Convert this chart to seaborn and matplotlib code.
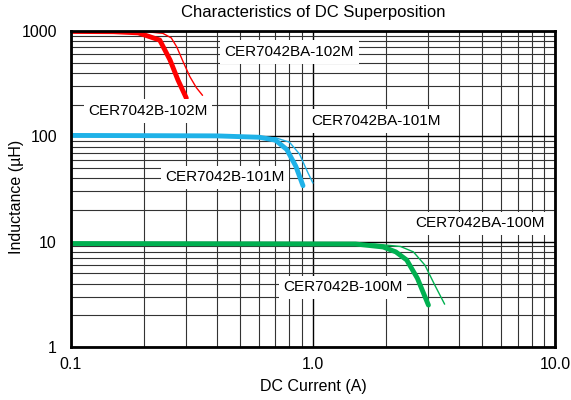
import numpy as np
import pandas as pd
import seaborn as sns
import matplotlib.pyplot as plt
from matplotlib.ticker import FixedLocator, FixedFormatter, LogLocator, NullFormatter

# Curvas (corrente em A, indutância em uH)
b102_x = [0.1, 0.15, 0.19, 0.233, 0.257, 0.277, 0.30]
b102_y = [990, 985, 960, 820, 530, 343, 231]
ba102_x = [0.1, 0.2, 0.24, 0.26, 0.274, 0.29, 0.31, 0.33, 0.35]
ba102_y = [1000, 990, 950, 860, 705, 520, 370, 290, 245]

b101_x = [0.1, 0.4, 0.6, 0.7, 0.78, 0.85, 0.91]
b101_y = [102, 101, 98, 92, 75, 52, 34]
ba101_x = [0.1, 0.5, 0.7, 0.8, 0.88, 0.95, 1.0]
ba101_y = [102, 101, 97, 88, 68, 46, 36]

b100_x = [0.1, 1.5, 1.95, 2.2, 2.44, 2.7, 3.0]
b100_y = [9.6, 9.5, 8.9, 8.0, 6.7, 4.5, 2.5]
ba100_x = [0.1, 1.8, 2.3, 2.6, 2.9, 3.2, 3.5]
ba100_y = [9.6, 9.5, 9.0, 8.0, 6.0, 3.8, 2.55]

curvas = [
    ('CER7042B-102M', b102_x, b102_y, '#ff0000', 3.5),
    ('CER7042BA-102M', ba102_x, ba102_y, '#ff0000', 1.0),
    ('CER7042B-101M', b101_x, b101_y, '#1fb2e8', 3.5),
    ('CER7042BA-101M', ba101_x, ba101_y, '#1fb2e8', 1.0),
    ('CER7042B-100M', b100_x, b100_y, '#00b050', 3.5),
    ('CER7042BA-100M', ba100_x, ba100_y, '#00b050', 1.0),
]

# Posição dos rótulos (em coordenadas de dados)
rotulos = {
    'CER7042BA-102M': (0.80, 632),
    'CER7042B-102M': (0.208, 174),
    'CER7042BA-101M': (1.82, 140),
    'CER7042B-101M': (0.433, 41),
    'CER7042BA-100M': (4.9, 15.0),
    'CER7042B-100M': (1.33, 3.7),
}

sns.set_style('white')
plt.rcParams['font.family'] = ['Liberation Sans', 'DejaVu Sans']
plt.rcParams['text.color'] = 'black'
plt.rcParams['axes.labelcolor'] = 'black'
plt.rcParams['xtick.color'] = 'black'
plt.rcParams['ytick.color'] = 'black'

fig = plt.figure(figsize=(5.71, 4.0), dpi=100)
ax = fig.add_axes([0.124, 0.1325, 0.848, 0.79])

ax.set_xscale('log')
ax.set_yscale('log')
ax.set_xlim(0.1, 10)
ax.set_ylim(1, 1000)

ax.xaxis.set_major_locator(FixedLocator([0.1, 1, 10]))
ax.xaxis.set_major_formatter(FixedFormatter(['0.1', '1.0', '10.0']))
ax.yaxis.set_major_locator(FixedLocator([1, 10, 100, 1000]))
ax.yaxis.set_major_formatter(FixedFormatter(['1', '10', '100', '1000']))
ax.xaxis.set_minor_locator(LogLocator(base=10, subs=np.arange(2, 10)))
ax.yaxis.set_minor_locator(LogLocator(base=10, subs=np.arange(2, 10)))
ax.xaxis.set_minor_formatter(NullFormatter())
ax.yaxis.set_minor_formatter(NullFormatter())

ax.grid(True, which='major', color='black', linewidth=1.0)
ax.grid(True, which='minor', color='#333333', linewidth=0.8)
ax.set_axisbelow(True)
ax.tick_params(which='both', length=0, labelsize=11.5)
ax.tick_params(axis='x', pad=7)
ax.tick_params(axis='y', pad=10)

for nome, xs, ys, cor, lw in curvas:
    df = pd.DataFrame({'x': xs, 'y': ys})
    sns.lineplot(data=df, x='x', y='y', ax=ax, color=cor, linewidth=lw,
                 sort=False, estimator=None,
                 solid_joinstyle='round', solid_capstyle='round')
    tx, ty = rotulos[nome]
    ax.text(tx, ty, nome, fontsize=11, ha='center', va='center', zorder=5,
            bbox=dict(boxstyle='square,pad=0.3', facecolor='white', edgecolor='none'))

for s in ax.spines.values():
    s.set_color('black')
    s.set_linewidth(2)

ax.set_title('Characteristics of DC Superposition', fontsize=12, pad=10)
ax.set_xlabel('DC Current (A)', fontsize=11.5, labelpad=5)
ax.set_ylabel('Inductance (µH)', fontsize=11.5)
ax.yaxis.set_label_coords(-0.097, 0.475)

fig.savefig('out.png', dpi=100)
